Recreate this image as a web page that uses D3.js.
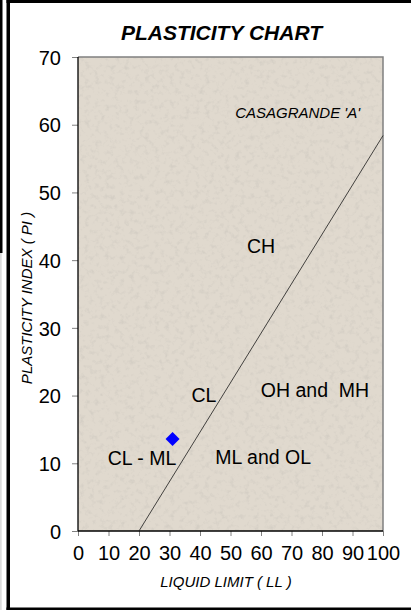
<!DOCTYPE html>
<html>
<head>
<meta charset="utf-8">
<script src="https://cdn.jsdelivr.net/npm/d3@7"></script>
<style>
  html, body { margin: 0; padding: 0; background: #ffffff; }
  svg { display: block; }
  text { font-family: "Liberation Sans", Arial, sans-serif; fill: #000; white-space: pre; }
</style>
</head>
<body>
<svg id="chart" width="411" height="610"></svg>
<script>
// Axis ticks
const xTicks = [0, 10, 20, 30, 40, 50, 60, 70, 80, 90, 100];
const yTicks = [0, 10, 20, 30, 40, 50, 60, 70];

// Casagrande A-line: PI = 0.73 (LL - 20), drawn from LL = 20 to LL = 100
const aLineLL = [20, 100];
const aLinePI = [0, 58.4];

// Sample result (liquid limit, plasticity index)
const sampleLL = [31];
const samplePI = [13.6];

// Soil zone labels with their anchor positions in chart units
const zoneNames = ["CASAGRANDE 'A'", "CH", "CL", "OH and  MH", "CL - ML", "ML and OL"];
const zoneLL = [72, 60, 41.3, 77.7, 21, 60.7];
const zonePI = [61, 41, 19.05, 19.8, 9.75, 9.85];

const svg = d3.select("#chart");
const W = 411, H = 610;
const plot = { left: 78, right: 383, top: 57, bottom: 531 };

const x = d3.scaleLinear().domain([0, 100]).range([plot.left, plot.right]);
const y = d3.scaleLinear().domain([0, 70]).range([plot.bottom, plot.top]);

// Outer frame
svg.append("rect").attr("x", 0).attr("y", 0).attr("width", 2.5).attr("height", 253).attr("fill", "#000");
svg.append("rect").attr("x", 0).attr("y", 253).attr("width", 1.7).attr("height", H - 253).attr("fill", "#dcdcdc");
svg.append("rect").attr("x", 6.5).attr("y", 0).attr("width", W - 6.5).attr("height", 3).attr("fill", "#000");
svg.append("rect").attr("x", 6.5).attr("y", 0).attr("width", 3.5).attr("height", H).attr("fill", "#000");
svg.append("rect").attr("x", 6.5).attr("y", 607.5).attr("width", W - 6.5).attr("height", 2.5).attr("fill", "#000");

// Fine stone-like grain for the plot area
const defs = svg.append("defs");
const grain = defs.append("filter").attr("id", "grain")
  .attr("x", 0).attr("y", 0).attr("width", "100%").attr("height", "100%");
grain.append("feTurbulence").attr("type", "fractalNoise")
  .attr("baseFrequency", 0.2).attr("numOctaves", 3).attr("seed", 7).attr("result", "n");
grain.append("feColorMatrix").attr("in", "n").attr("type", "matrix")
  .attr("values", "0 0 0 0 0.58  0 0 0 0 0.55  0 0 0 0 0.50  3.0 0 0 0 -1.5");

svg.append("rect")
  .attr("x", plot.left).attr("y", plot.top)
  .attr("width", plot.right - plot.left).attr("height", plot.bottom - plot.top)
  .attr("fill", "#e0d9ce");
svg.append("rect")
  .attr("x", plot.left).attr("y", plot.top)
  .attr("width", plot.right - plot.left).attr("height", plot.bottom - plot.top)
  .attr("filter", "url(#grain)").attr("opacity", 0.45);

// Plot border: grey on top and right
svg.append("path")
  .attr("d", `M${plot.left},${plot.top}H${plot.right}V${plot.bottom}`)
  .attr("fill", "none").attr("stroke", "#808080").attr("stroke-width", 1.5);

// Y axis
const yAxis = d3.axisLeft(y).tickValues(yTicks).tickSize(6).tickPadding(11).tickFormat(d3.format("d"));
const gy = svg.append("g").attr("transform", `translate(${plot.left},0)`).call(yAxis);
gy.select(".domain").remove();
gy.selectAll(".tick line").attr("stroke", "#808080");
gy.selectAll(".tick text").attr("font-size", 20).attr("font-family", "Liberation Sans, Arial, sans-serif").attr("dy", "0.36em");

// X axis
const xAxis = d3.axisBottom(x).tickValues(xTicks).tickSize(5).tickPadding(10).tickFormat(d3.format("d"));
const gx = svg.append("g").attr("transform", `translate(0,${plot.bottom})`).call(xAxis);
gx.select(".domain").remove();
gx.selectAll(".tick line").attr("stroke", "#808080");
gx.selectAll(".tick text").attr("font-size", 20).attr("font-family", "Liberation Sans, Arial, sans-serif");

// Axis lines in black
svg.append("line").attr("x1", plot.left).attr("x2", plot.left).attr("y1", plot.top).attr("y2", plot.bottom)
  .attr("stroke", "#000").attr("stroke-width", 1.3);
svg.append("line").attr("x1", plot.left).attr("x2", plot.right).attr("y1", plot.bottom).attr("y2", plot.bottom)
  .attr("stroke", "#000").attr("stroke-width", 1.5);

// A-line
const line = d3.line().x(d => x(d[0])).y(d => y(d[1]));
svg.append("path")
  .datum(aLineLL.map((v, i) => [v, aLinePI[i]]))
  .attr("d", line)
  .attr("fill", "none").attr("stroke", "#1a1a1a").attr("stroke-width", 0.8);

// Zone labels
zoneNames.forEach((name, i) => {
  const first = i === 0;
  svg.append("text")
    .attr("x", x(zoneLL[i])).attr("y", y(zonePI[i]))
    .attr("text-anchor", "middle")
    .attr("font-size", first ? 15 : 19.5)
    .attr("font-style", first ? "italic" : "normal")
    .text(name);
});

// Sample point
svg.selectAll(".pt")
  .data(sampleLL.map((v, i) => [v, samplePI[i]]))
  .join("path")
  .attr("class", "pt")
  .attr("d", d3.symbol(d3.symbolSquare, 98))
  .attr("transform", d => `translate(${x(d[0])},${y(d[1])}) rotate(45)`)
  .attr("fill", "#0000ff");

// Titles
svg.append("text").attr("x", 221.5).attr("y", 39.5)
  .attr("text-anchor", "middle").attr("font-size", 21)
  .attr("font-weight", "bold").attr("font-style", "italic")
  .text("PLASTICITY CHART");
svg.append("text").attr("x", 226).attr("y", 587)
  .attr("text-anchor", "middle").attr("font-size", 15).attr("font-style", "italic")
  .text("LIQUID LIMIT ( LL )");
svg.append("text")
  .attr("transform", `translate(32,${(plot.top + plot.bottom) / 2 + 4}) rotate(-90)`)
  .attr("text-anchor", "middle").attr("font-size", 15).attr("font-style", "italic")
  .text("PLASTICITY INDEX ( PI )");
</script>
</body>
</html>
